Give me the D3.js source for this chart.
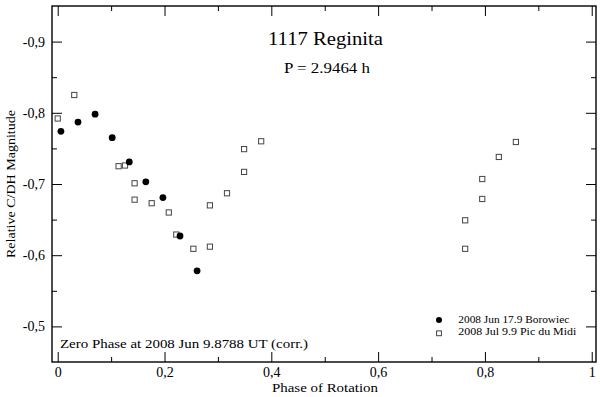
<!DOCTYPE html>
<html>
<head>
<meta charset="utf-8">
<script src="https://cdn.jsdelivr.net/npm/d3@7"></script>
<style>
  body { margin: 0; background: #fff; }
  svg { display: block; font-family: "Liberation Serif", "DejaVu Serif", serif; }
</style>
</head>
<body>
<script>
// Phase / relative magnitude
const borowiecPhase = [0.006, 0.038, 0.070, 0.102, 0.134, 0.165, 0.197, 0.229, 0.261];
const borowiecMag   = [-0.774, -0.787, -0.798, -0.765, -0.731, -0.703, -0.681, -0.627, -0.578];

const picPhase = [0.000, 0.031, 0.114, 0.126, 0.144, 0.144, 0.176, 0.208, 0.222, 0.254, 0.285,
                  0.285, 0.317, 0.349, 0.349, 0.381, 0.763, 0.763, 0.795, 0.795, 0.826, 0.858];
const picMag   = [-0.792, -0.825, -0.725, -0.726, -0.701, -0.678, -0.673, -0.660, -0.629, -0.609, -0.612,
                  -0.670, -0.687, -0.717, -0.749, -0.760, -0.609, -0.649, -0.679, -0.707, -0.738, -0.759];

const xMajor = [0, 0.2, 0.4, 0.6, 0.8, 1];
const xMinor = [0.1, 0.3, 0.5, 0.7, 0.9];
const yMajor = [-0.9, -0.8, -0.7, -0.6, -0.5];
const yMinor = [-0.85, -0.75, -0.65, -0.55];

const seriesNames = ["2008 Jun 17.9 Borowiec", "2008 Jul 9.9 Pic du Midi"];

const W = 600, H = 397;
const plotLeft = 52, plotRight = 596, plotTop = 6, plotBottom = 362;

const svg = d3.select("body").append("svg")
    .attr("width", W)
    .attr("height", H);

const x = d3.scaleLinear().domain([-0.0107, 1.008]).range([plotLeft, plotRight]);
const y = d3.scaleLinear().domain([-0.95, -0.45]).range([plotTop, plotBottom]);

const fmt = d => String(d).replace(".", ",");

// axes, ticks pointing inward
function styleAxis(g) {
    g.select(".domain").remove();
    g.selectAll("line").attr("stroke", "#000");
    g.selectAll("text")
        .attr("fill", "#000")
        .style("font-family", "'Liberation Serif', serif")
        .style("font-size", "14px");
}

svg.append("g").attr("transform", `translate(0,${plotBottom})`)
    .call(d3.axisBottom(x).tickValues(xMajor).tickSize(-10).tickPadding(5).tickFormat(fmt))
    .call(styleAxis);
svg.append("g").attr("transform", `translate(0,${plotBottom})`)
    .call(d3.axisBottom(x).tickValues(xMinor).tickSize(-5).tickFormat(""))
    .call(styleAxis);
svg.append("g").attr("transform", `translate(0,${plotTop})`)
    .call(d3.axisTop(x).tickValues(xMajor).tickSize(-10).tickFormat(""))
    .call(styleAxis);
svg.append("g").attr("transform", `translate(0,${plotTop})`)
    .call(d3.axisTop(x).tickValues(xMinor).tickSize(-5).tickFormat(""))
    .call(styleAxis);

svg.append("g").attr("transform", `translate(${plotLeft},0)`)
    .call(d3.axisLeft(y).tickValues(yMajor).tickSize(-10).tickPadding(7).tickFormat(fmt))
    .call(styleAxis);
svg.append("g").attr("transform", `translate(${plotLeft},0)`)
    .call(d3.axisLeft(y).tickValues(yMinor).tickSize(-5).tickFormat(""))
    .call(styleAxis);
svg.append("g").attr("transform", `translate(${plotRight},0)`)
    .call(d3.axisRight(y).tickValues(yMajor).tickSize(-10).tickFormat(""))
    .call(styleAxis);
svg.append("g").attr("transform", `translate(${plotRight},0)`)
    .call(d3.axisRight(y).tickValues(yMinor).tickSize(-5).tickFormat(""))
    .call(styleAxis);

// frame
svg.append("rect")
    .attr("x", plotLeft).attr("y", plotTop)
    .attr("width", plotRight - plotLeft).attr("height", plotBottom - plotTop)
    .attr("fill", "none")
    .attr("stroke", "#000")
    .attr("stroke-width", 1.4);

// data
const circles = borowiecPhase.map((p, i) => ({ p, m: borowiecMag[i] }));
const squares = picPhase.map((p, i) => ({ p, m: picMag[i] }));

svg.append("g").selectAll("rect")
    .data(squares)
    .join("rect")
    .attr("x", d => x(d.p) - 2.6)
    .attr("y", d => y(d.m) - 2.6)
    .attr("width", 5.2)
    .attr("height", 5.2)
    .attr("fill", "#fff")
    .attr("stroke", "#444")
    .attr("stroke-width", 1);

svg.append("g").selectAll("circle")
    .data(circles)
    .join("circle")
    .attr("cx", d => x(d.p))
    .attr("cy", d => y(d.m))
    .attr("r", 3.4)
    .attr("fill", "#000");

// titles (the original is a bit wider than the font, so stretch to length)
svg.append("text")
    .attr("x", 268).attr("y", 45)
    .attr("textLength", 115)
    .attr("lengthAdjust", "spacingAndGlyphs")
    .style("font-size", "18px")
    .text("1117 Reginita");

svg.append("text")
    .attr("x", 284).attr("y", 73)
    .attr("textLength", 86)
    .attr("lengthAdjust", "spacingAndGlyphs")
    .style("font-size", "14px")
    .text("P = 2.9464 h");

svg.append("text")
    .attr("x", 60).attr("y", 348)
    .attr("textLength", 248)
    .attr("lengthAdjust", "spacingAndGlyphs")
    .style("font-size", "13px")
    .text("Zero Phase at 2008 Jun 9.8788 UT (corr.)");

svg.append("text")
    .attr("x", 272).attr("y", 392)
    .attr("textLength", 106)
    .attr("lengthAdjust", "spacingAndGlyphs")
    .style("font-size", "13px")
    .text("Phase of Rotation");

svg.append("text")
    .attr("transform", "translate(14.5,258) rotate(-90)")
    .attr("textLength", 148)
    .attr("lengthAdjust", "spacingAndGlyphs")
    .style("font-size", "13.5px")
    .text("Relative C/DH Magnitude");

// legend
const legend = svg.append("g").attr("transform", "translate(439,320)");
legend.append("circle").attr("cx", 0).attr("cy", 0).attr("r", 3).attr("fill", "#000");
legend.append("rect")
    .attr("x", -2.4).attr("y", 10.9).attr("width", 4.8).attr("height", 4.8)
    .attr("fill", "#fff").attr("stroke", "#444").attr("stroke-width", 1);
legend.selectAll("text")
    .data(seriesNames)
    .join("text")
    .attr("x", 19.3)
    .attr("y", (d, i) => 3 + i * 12)
    .attr("textLength", (d, i) => [111, 118][i])
    .attr("lengthAdjust", "spacingAndGlyphs")
    .style("font-size", "10px")
    .text(d => d);
</script>
</body>
</html>
